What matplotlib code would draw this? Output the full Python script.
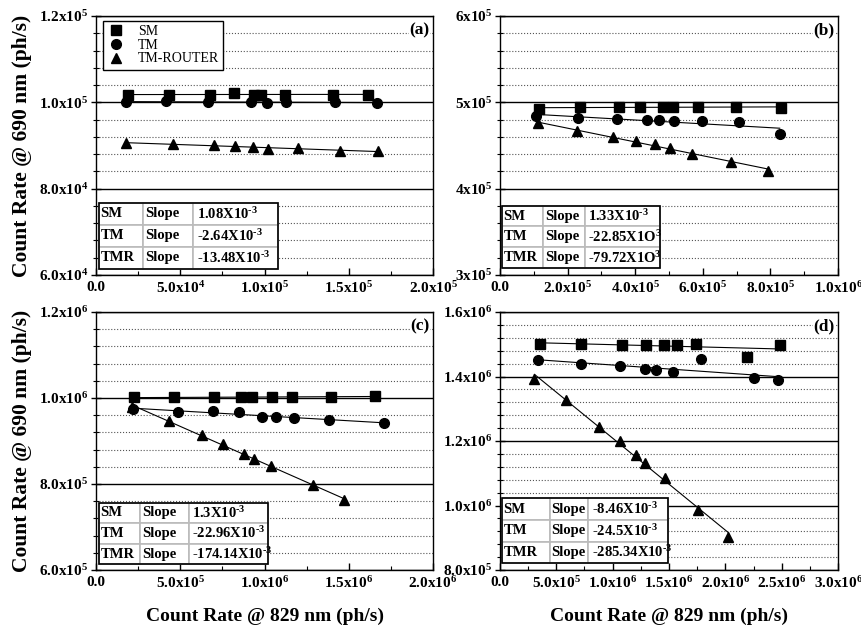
import numpy as np
import matplotlib
matplotlib.use('Agg')
import matplotlib.pyplot as plt
from matplotlib.patches import Rectangle
from matplotlib.ticker import MultipleLocator

plt.rcParams['font.family'] = ['Liberation Serif', 'DejaVu Serif']
plt.rcParams['font.weight'] = 'bold'
plt.rcParams['mathtext.fontset'] = 'custom'
plt.rcParams['mathtext.rm'] = 'Liberation Serif:bold'
plt.rcParams['mathtext.it'] = 'Liberation Serif:bold:italic'
plt.rcParams['mathtext.bf'] = 'Liberation Serif:bold'
plt.rcParams['mathtext.default'] = 'rm'

# ---- datos ----
series_names = ['SM', 'TM', 'TM-ROUTER']
table_names = ['SM', 'TM', 'TMR']

# (a)
a_sm_x = [18.8e3, 43.1e3, 67.4e3, 82.0e3, 93.7e3, 97.8e3, 112e3, 140.7e3, 161.7e3]
a_sm_y = [101.7e3, 101.8e3, 101.8e3, 102.1e3, 101.8e3, 101.8e3, 101.8e3, 101.8e3, 101.8e3]
a_tm_x = [17.6e3, 41.7e3, 66.4e3, 92.1e3, 101.2e3, 113e3, 141.7e3, 166.6e3]
a_tm_y = [100.1e3, 100.2e3, 100.1e3, 100.1e3, 99.9e3, 100.1e3, 100.0e3, 99.9e3]
a_tmr_x = [17.8e3, 45.5e3, 69.8e3, 82.6e3, 93.3e3, 101.8e3, 119.6e3, 144.7e3, 167.2e3]
a_tmr_y = [90.5e3, 90.35e3, 90.04e3, 89.96e3, 89.65e3, 89.19e3, 89.42e3, 88.73e3, 88.65e3]
a_xticklabels = ['0.0', '5.0x10$^{4}$', '1.0x10$^{5}$', '1.5x10$^{5}$', '2.0x10$^{5}$']
a_yticklabels = ['6.0x10$^{4}$', '8.0x10$^{4}$', '1.0x10$^{5}$', '1.2x10$^{5}$']
a_slopes = ['1.08X10$^{\\text{-}3}$', '-2.64X10$^{\\text{-}3}$', '-13.48X10$^{\\text{-}3}$']

# (b)
b_sm_x = [115e3, 235.5e3, 351.7e3, 413.8e3, 482.8e3, 513.3e3, 587.2e3, 698.5e3, 830.5e3]
b_sm_y = [491.9e3, 494.6e3, 495.0e3, 494.6e3, 495.0e3, 495.0e3, 494.2e3, 494.2e3, 493.8e3]
b_tm_x = [107.4e3, 231.5e3, 344.8e3, 435.5e3, 471.9e3, 515.3e3, 599e3, 708.4e3, 827.6e3]
b_tm_y = [483.7e3, 481.8e3, 480.6e3, 479.8e3, 479.5e3, 478.7e3, 477.9e3, 476.7e3, 462.8e3]
b_tmr_x = [113.3e3, 227.6e3, 333e3, 403e3, 460e3, 503.4e3, 569.5e3, 682.8e3, 793.1e3]
b_tmr_y = [475.6e3, 466.7e3, 459.7e3, 455.0e3, 451.2e3, 447.3e3, 440.7e3, 431.0e3, 420.9e3]
b_xticklabels = ['0.0', '2.0x10$^{5}$', '4.0x10$^{5}$', '6.0x10$^{5}$', '8.0x10$^{5}$', '1.0x10$^{6}$']
b_yticklabels = ['3x10$^{5}$', '4x10$^{5}$', '5x10$^{5}$', '6x10$^{5}$']
b_slopes = ['1.33X10$^{\\text{-}3}$', '-22.85X1O$^{3}$', '-79.72X1O$^{3}$']

# (c)
c_sm_x = [225e3, 462e3, 700e3, 858e3, 925e3, 1047e3, 1164e3, 1395e3, 1654e3]
c_sm_y = [1001.5e3, 1001.5e3, 1001.5e3, 1001.5e3, 1001.5e3, 1002.3e3, 1003.1e3, 1003.1e3, 1003.9e3]
c_tm_x = [219.4e3, 484.2e3, 693.7e3, 845.8e3, 984.2e3, 1067.2e3, 1177.9e3, 1383.4e3, 1709.5e3]
c_tm_y = [974.4e3, 967.4e3, 970.5e3, 966.7e3, 956.6e3, 955.8e3, 954.3e3, 948.8e3, 941.9e3]
c_tmr_x = [215.4e3, 430.8e3, 630.4e3, 751e3, 875.5e3, 938.7e3, 1039.5e3, 1290.5e3, 1470.4e3]
c_tmr_y = [979.1e3, 946.5e3, 913.2e3, 892.2e3, 870.5e3, 858.9e3, 842.6e3, 796.9e3, 762.8e3]
c_xticklabels = ['0.0', '5.0x10$^{5}$', '1.0x10$^{6}$', '1.5x10$^{6}$', '2.0x10$^{6}$']
c_yticklabels = ['6.0x10$^{5}$', '8.0x10$^{5}$', '1.0x10$^{6}$', '1.2x10$^{6}$']
c_slopes = ['1.3X10$^{\\text{-}3}$', '-22.96X10$^{\\text{-}3}$', '-174.14X10$^{\\text{-}3}$']

# (d)
d_sm_x = [353.4e3, 721.7e3, 1087e3, 1292e3, 1452e3, 1568e3, 1740e3, 2189e3, 2483e3]
d_sm_y = [1499.9e3, 1500.9e3, 1498.9e3, 1498.9e3, 1498.9e3, 1496.8e3, 1500.9e3, 1460.7e3, 1497.8e3]
d_tm_x = [335.6e3, 715.8e3, 1063e3, 1286e3, 1381e3, 1539e3, 1785e3, 2254e3, 2471e3]
d_tm_y = [1452.4e3, 1440e3, 1431.8e3, 1424.6e3, 1420.4e3, 1415.3e3, 1454.5e3, 1396.7e3, 1390.5e3]
d_tmr_x = [305.9e3, 582e3, 879e3, 1066e3, 1209e3, 1289e3, 1464e3, 1758e3, 2026e3]
d_tmr_y = [1392.6e3, 1328.6e3, 1244e3, 1199.6e3, 1155.2e3, 1132.5e3, 1086e3, 987e3, 903.4e3]
d_xticklabels = ['0.0', '5.0x10$^{5}$', '1.0x10$^{6}$', '1.5x10$^{6}$', '2.0x10$^{6}$',
                 '2.5x10$^{6}$', '3.0x10$^{6}$']
d_yticklabels = ['8.0x10$^{5}$', '1.0x10$^{6}$', '1.2x10$^{6}$', '1.4x10$^{6}$', '1.6x10$^{6}$']
d_slopes = ['-8.46X10$^{\\text{-}3}$', '-24.5X10$^{\\text{-}3}$', '-285.34X10$^{\\text{-}3}$']

markers = ['s', 'o', '^']


def panel(ax, series, xlim, ylim, xminor, yminor, xlabs, ylabs, tag, slopes,
          tbox, cw, legend=False):
    for (x, y), m, name in zip(series, markers, series_names):
        x = np.array(x)
        y = np.array(y)
        # recta de ajuste
        p = np.polyfit(x, y, 1)
        xx = np.array([x.min(), x.max()])
        ax.plot(xx, np.polyval(p, xx), color='black', lw=0.8, zorder=3)
        ax.plot(x, y, m, color='black', ms=7 if m != 's' else 6.5, label=name,
                zorder=4, clip_on=False)

    ax.set_xlim(*xlim)
    ax.set_ylim(*ylim)
    ax.set_xticks(np.linspace(xlim[0], xlim[1], len(xlabs)), labels=xlabs)
    ax.set_yticks(np.linspace(ylim[0], ylim[1], len(ylabs)), labels=ylabs)
    ax.xaxis.set_minor_locator(MultipleLocator(xminor))
    ax.yaxis.set_minor_locator(MultipleLocator(yminor))
    ax.tick_params(axis='x', which='major', direction='in', length=5, width=1,
                   labelsize=11, pad=4)
    ax.tick_params(axis='x', which='minor', direction='in', length=3, width=0.8)
    ax.tick_params(axis='y', which='major', direction='inout', length=7, width=1,
                   labelsize=11, pad=2)
    ax.tick_params(axis='y', which='minor', direction='inout', length=4, width=0.8)
    ax.set_axisbelow(True)
    ax.yaxis.grid(True, which='major', color='black', lw=1.0, ls='-')
    ax.yaxis.grid(True, which='minor', color='#555555', lw=0.8, ls=':')
    for s in ax.spines.values():
        s.set_linewidth(1.0)

    ax.text(0.99, 0.946, tag, transform=ax.transAxes, ha='right', va='center',
            fontsize=12.5, fontweight='bold', zorder=6,
            bbox=dict(facecolor='white', edgecolor='none', pad=0.5))

    rows = [[n, 'Slope', s] for n, s in zip(table_names, slopes)]
    tb = ax.table(cellText=rows, colWidths=cw, cellLoc='left', bbox=tbox, zorder=7)
    tb.auto_set_font_size(False)
    tb.set_fontsize(10.5)
    for cell in tb.get_celld().values():
        cell.set_edgecolor('#bbbbbb')
        cell.set_linewidth(1.2)
        cell.set_facecolor('white')
        cell.PAD = 0.04
        cell.get_text().set_fontweight('bold')
    ax.add_patch(Rectangle((tbox[0], tbox[1]), tbox[2], tbox[3], transform=ax.transAxes,
                           fill=False, edgecolor='black', lw=1.2, zorder=8))

    if legend:
        leg = ax.legend(loc='upper left', bbox_to_anchor=(0.021, 0.981), borderaxespad=0,
                        fancybox=False, edgecolor='black', framealpha=1,
                        prop={'size': 10, 'weight': 'normal'}, handlelength=1.2,
                        labelspacing=0.05, handletextpad=1.0, borderpad=0.3,
                        markerscale=1.0)
        leg.get_frame().set_linewidth(1.0)


fig = plt.figure(figsize=(8.62, 6.33), dpi=100)
ax_a = fig.add_axes([0.1114, 0.5656, 0.3909, 0.4091])
ax_b = fig.add_axes([0.5800, 0.5656, 0.3922, 0.4091])
ax_c = fig.add_axes([0.1114, 0.0995, 0.3909, 0.4076])
ax_d = fig.add_axes([0.5800, 0.0995, 0.3922, 0.4076])

panel(ax_a, [(a_sm_x, a_sm_y), (a_tm_x, a_tm_y), (a_tmr_x, a_tmr_y)],
      (0, 2e5), (6e4, 1.2e5), 2.5e4, 4e3, a_xticklabels, a_yticklabels, '(a)', a_slopes,
      [0.008, 0.024, 0.533, 0.255], [0.245, 0.282, 0.473], legend=True)
panel(ax_b, [(b_sm_x, b_sm_y), (b_tm_x, b_tm_y), (b_tmr_x, b_tmr_y)],
      (0, 1e6), (3e5, 6e5), 1e5, 2e4, b_xticklabels, b_yticklabels, '(b)', b_slopes,
      [0.005, 0.026, 0.468, 0.242], [0.263, 0.263, 0.474])
panel(ax_c, [(c_sm_x, c_sm_y), (c_tm_x, c_tm_y), (c_tmr_x, c_tmr_y)],
      (0, 2e6), (6e5, 1.2e6), 2.5e5, 4e4, c_xticklabels, c_yticklabels, '(c)', c_slopes,
      [0.008, 0.022, 0.503, 0.239], [0.244, 0.289, 0.467])
panel(ax_d, [(d_sm_x, d_sm_y), (d_tm_x, d_tm_y), (d_tmr_x, d_tmr_y)],
      (0, 3e6), (8e5, 1.6e6), 2.5e5, 4e4, d_xticklabels, d_yticklabels, '(d)', d_slopes,
      [0.005, 0.026, 0.492, 0.252], [0.291, 0.231, 0.478])

for ax in (ax_a, ax_c):
    ax.set_ylabel('Count Rate @ 690 nm (ph/s)', fontsize=15.5, fontweight='bold', labelpad=5)
for ax in (ax_c, ax_d):
    ax.set_xlabel('Count Rate @ 829 nm (ph/s)', fontsize=14, fontweight='bold', labelpad=12)

fig.savefig('out.png', dpi=100)
